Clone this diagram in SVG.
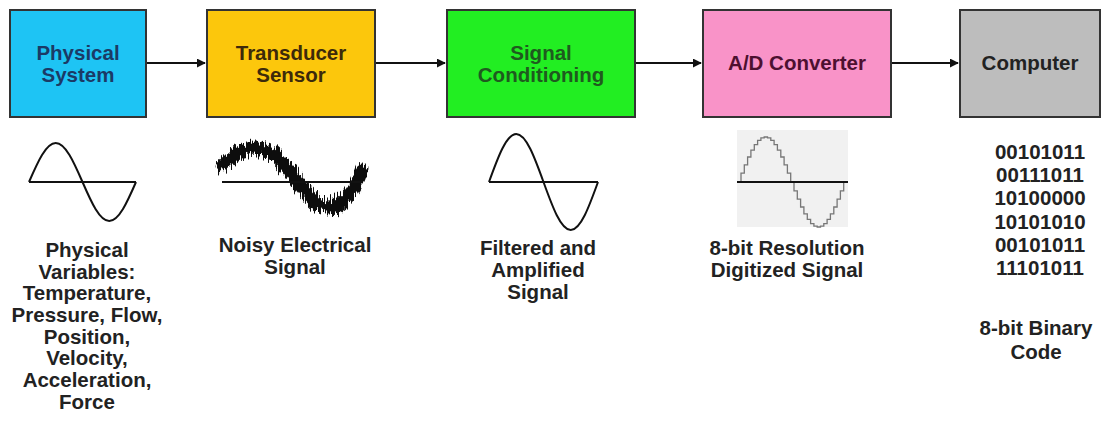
<svg xmlns="http://www.w3.org/2000/svg" width="1109" height="421" viewBox="0 0 1109 421">
<style>
.box{stroke:#333;stroke-width:2}
.t{font-family:"Liberation Sans",Arial,sans-serif;font-weight:bold;font-size:20.5px;text-anchor:middle}
.lbl{fill:#222}
.wave{fill:none;stroke:#111;stroke-width:2}
.axis{stroke:#111;stroke-width:1.8}
.conn{stroke:#111;stroke-width:2;fill:none}
</style>
<defs>
<marker id="ah" viewBox="0 0 10 10" refX="9" refY="5" markerWidth="4.5" markerHeight="4.5" orient="auto" markerUnits="strokeWidth">
<path d="M0,0 L10,5 L0,10 z" fill="#111"/>
</marker>
<filter id="noise" x="-20%" y="-50%" width="140%" height="200%">
<feTurbulence type="fractalNoise" baseFrequency="0.7 0.05" numOctaves="2" seed="5" result="n"/>
<feColorMatrix in="n" type="matrix" values="0 0 0 0 0.5  1 0 0 0 0  0 0 1 0 0  0 0 0 0 1" result="m"/>
<feDisplacementMap in="SourceGraphic" in2="m" scale="22" xChannelSelector="R" yChannelSelector="G" result="d"/>
<feGaussianBlur in="d" stdDeviation="0.7"/>
</filter>
</defs>
<rect width="1109" height="421" fill="#fff"/>

<g id="connectors">
<line class="conn" x1="147" y1="63" x2="205" y2="63" marker-end="url(#ah)"/>
<line class="conn" x1="376" y1="63" x2="445" y2="63" marker-end="url(#ah)"/>
<line class="conn" x1="636" y1="63" x2="701" y2="63" marker-end="url(#ah)"/>
<line class="conn" x1="892" y1="63" x2="958" y2="63" marker-end="url(#ah)"/>
</g>

<g id="physical-system">
<rect class="box" x="10" y="10" width="136" height="107" fill="#1ec4f4"/>
<text class="t" fill="#1b3a66" x="78" y="60">Physical</text>
<text class="t" fill="#1b3a66" x="78" y="82">System</text>
</g>
<g id="transducer-sensor">
<rect class="box" x="207" y="10" width="168" height="107" fill="#fcc70c"/>
<text class="t" fill="#3d2a0a" x="291" y="60">Transducer</text>
<text class="t" fill="#3d2a0a" x="291" y="82">Sensor</text>
</g>
<g id="signal-conditioning">
<rect class="box" x="447" y="10" width="188" height="107" fill="#22ee22"/>
<text class="t" fill="#1f5a1f" x="541" y="60">Signal</text>
<text class="t" fill="#1f5a1f" x="541" y="82">Conditioning</text>
</g>
<g id="ad-converter">
<rect class="box" x="703" y="10" width="188" height="107" fill="#f993c8"/>
<text class="t" fill="#4d1030" x="797" y="70">A/D Converter</text>
</g>
<g id="computer">
<rect class="box" x="960" y="10" width="140" height="107" fill="#bdbdbd"/>
<text class="t" fill="#222" x="1030" y="70">Computer</text>
</g>

<g id="physical-wave">
<line class="axis" x1="29" y1="182" x2="136" y2="182"/>
<path class="wave" d="M29,182 C37.72,162.02 46.07,143 55.75,143 C65.43,143 73.78,162.02 82.5,182 C91.22,201.98 99.57,221 109.25,221 C118.93,221 127.28,201.98 136,182"/>
<text class="t lbl"><tspan x="87" y="257">Physical</tspan><tspan x="87" y="279">Variables:</tspan><tspan x="87" y="300">Temperature,</tspan><tspan x="87" y="322">Pressure, Flow,</tspan><tspan x="87" y="344">Position,</tspan><tspan x="87" y="365">Velocity,</tspan><tspan x="87" y="387">Acceleration,</tspan><tspan x="87" y="409">Force</tspan></text>
</g>

<g id="noisy-wave">
<g filter="url(#noise)">
<path d="M222,166 C232,154 245,148 260,149 C275,150 287,168 298,182 C308,195 315,206 327,207 C342,208 355,190 362,170" fill="none" stroke="#111" stroke-width="13" stroke-linecap="round"/>
</g>
<line class="axis" x1="222" y1="182" x2="362" y2="182"/>
<text class="t lbl"><tspan x="295" y="252">Noisy Electrical</tspan><tspan x="295" y="274">Signal</tspan></text>
</g>

<g id="filtered-wave">
<line class="axis" x1="489" y1="182" x2="598" y2="182"/>
<path class="wave" d="M489,182 C497.89,157.41 506.39,134 516.25,134 C526.11,134 534.61,157.41 543.5,182 C552.39,206.59 560.89,230 570.75,230 C580.61,230 589.11,206.59 598,182"/>
<text class="t lbl"><tspan x="538" y="255">Filtered and</tspan><tspan x="538" y="277">Amplified</tspan><tspan x="538" y="299">Signal</tspan></text>
</g>

<g id="digitized-wave">
<rect x="737" y="130" width="111" height="97" fill="#f1f1f1"/>
<path fill="none" stroke="#777" stroke-width="1.3" d="M741,182 V173.2 H744.3 V164.8 H747.6 V157 H750.9 V150.2 H754.3 V144.6 H757.6 V140.4 H760.9 V137.9 H764.2 V137 H767.5 V137.9 H770.8 V140.4 H774.1 V144.6 H777.4 V150.2 H780.8 V157 H784.1 V164.8 H787.4 V173.2 H790.7 V182 H794 V190.8 H797.3 V199.2 H800.6 V207 H803.9 V213.8 H807.3 V219.4 H810.6 V223.6 H813.9 V226.1 H817.2 V227 H820.5 V226.1 H823.8 V223.6 H827.1 V219.4 H830.4 V213.8 H833.8 V207 H837.1 V199.2 H840.4 V190.8 H843.7 V182 H847"/>
<line class="axis" x1="737" y1="182" x2="848" y2="182"/>
<text class="t lbl"><tspan x="787" y="255">8-bit Resolution</tspan><tspan x="787" y="277">Digitized Signal</tspan></text>
</g>

<g id="binary-code">
<text class="t lbl"><tspan x="1040" y="159">00101011</tspan><tspan x="1040" y="182">00111011</tspan><tspan x="1040" y="205">10100000</tspan><tspan x="1040" y="229">10101010</tspan><tspan x="1040" y="252">00101011</tspan><tspan x="1040" y="275">11101011</tspan></text>
<text class="t lbl"><tspan x="1036" y="335">8-bit Binary</tspan><tspan x="1036" y="359">Code</tspan></text>
</g>
</svg>
